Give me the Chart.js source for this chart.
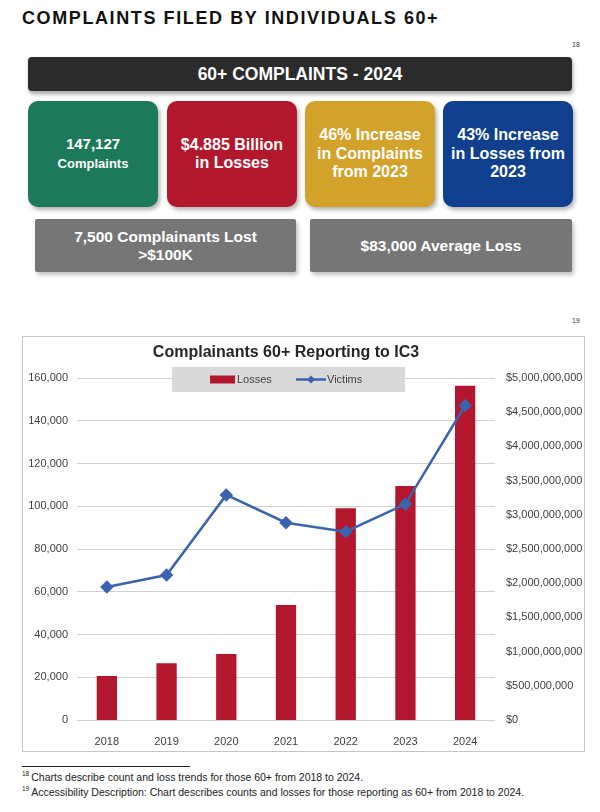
<!DOCTYPE html>
<html>
<head>
<meta charset="utf-8">
<script src="https://cdn.jsdelivr.net/npm/chart.js@4.4.1/dist/chart.umd.min.js"></script>
<style>
    body { margin:0; background:#fff; font-family:"Liberation Sans", Arial, sans-serif; }
    #page { position:relative; width:600px; height:812px; overflow:hidden; }
    .abs { position:absolute; }
    #heading { left:22px; top:8px; font-size:18px; font-weight:bold; letter-spacing:1.6px; color:#111; }
    .fn { font-size:7px; color:#333; }
    #banner { left:28px; top:57px; width:544px; height:34px; background:#2b2b2b; border-radius:4px;
        box-shadow:1px 3px 4px rgba(0,0,0,0.35); color:#fff; font-size:17.5px; font-weight:bold;
        display:flex; align-items:center; justify-content:center; }
    .tile { top:101px; width:130px; height:106px; border-radius:10px; color:#fff; font-weight:bold;
        box-shadow:2px 3px 4px rgba(0,0,0,0.3); display:flex; align-items:center; justify-content:center;
        text-align:center; font-size:16px; line-height:18.5px; }
    .gray { top:219px; height:53px; background:#767676; color:#fff; font-weight:bold; font-size:15.5px;
        line-height:18px; box-shadow:2px 3px 4px rgba(0,0,0,0.25); display:flex; align-items:center;
        justify-content:center; text-align:center; border-radius:2px; }
    #chartbox { left:22px; top:336px; width:561px; height:414px; border:1px solid #c6c6c6; }
    #ic3chart { display:block; }
    #rule { left:22px; top:766px; width:168px; height:0; border-top:1px solid #222; }
    .note { left:22px; font-size:10.5px; color:#222; white-space:nowrap; }
    .note sup { font-size:6.5px; margin-right:2px; }
</style>
</head>
<body>
<div id="page">
    <div id="heading" class="abs">COMPLAINTS FILED BY INDIVIDUALS 60+</div>
    <div class="abs fn" style="left:572px; top:41px;">18</div>
    <div id="banner" class="abs">60+ COMPLAINTS - 2024</div>

    <div class="abs tile" style="left:28px; background:#1c7a5a;"><div><span style="font-size:15px">147,127</span><br><span style="font-size:13px">Complaints</span></div></div>
    <div class="abs tile" style="left:167px; background:#b3172c;"><div>$4.885 Billion<br>in Losses</div></div>
    <div class="abs tile" style="left:305px; background:#d3a22b;"><div>46% Increase<br>in Complaints<br>from 2023</div></div>
    <div class="abs tile" style="left:443px; background:#0f3f8d;"><div>43% Increase<br>in Losses from<br>2023</div></div>

    <div class="abs gray" style="left:35px; width:261px;"><div>7,500 Complainants Lost<br>&gt;$100K</div></div>
    <div class="abs gray" style="left:310px; width:262px;"><div>$83,000 Average Loss</div></div>

    <div class="abs fn" style="left:572px; top:317px;">19</div>
    <div id="chartbox" class="abs"><canvas id="ic3chart" width="561" height="414"></canvas></div>

    <div id="rule" class="abs"></div>
    <div class="abs note" style="top:770px;"><sup>18</sup>Charts describe count and loss trends for those 60+ from 2018 to 2024.</div>
    <div class="abs note" style="top:785px;"><sup>19</sup>Accessibility Description: Chart describes counts and losses for those reporting as 60+ from 2018 to 2024.</div>
</div>

<script>
var years = ['2018', '2019', '2020', '2021', '2022', '2023', '2024'];
var victims = [62200, 67800, 105300, 92300, 88100, 101000, 147127];
var losses = [643000000, 830000000, 965000000, 1680000000, 3095000000, 3420000000, 4885000000];

var barColor = '#b2172d';
var lineColor = '#3b63ae';
var tickFont = { family: 'Liberation Sans', size: 11 };

// gray legend box sitting over the top gridline, like the excel one
var legendBox = {
    id: 'legendBox',
    beforeDatasetsDraw(chart, args, opts) {
        let ctx = chart.ctx;
        ctx.save();
        ctx.fillStyle = '#d9d9d9';
        ctx.fillRect(opts.x, opts.y, opts.w, opts.h);
        let cy = opts.y + opts.h / 2;
        let ds = chart.data.datasets;
        ctx.font = '11px "Liberation Sans"';
        ctx.textBaseline = 'middle';
        ctx.fillStyle = ds[1].backgroundColor;
        ctx.fillRect(opts.x + 38, cy - 4, 25, 8);
        ctx.fillStyle = '#404040';
        ctx.fillText(ds[1].label, opts.x + 65, cy);
        let lx = opts.x + 124;
        ctx.strokeStyle = ds[0].borderColor;
        ctx.lineWidth = 2.5;
        ctx.beginPath();
        ctx.moveTo(lx, cy);
        ctx.lineTo(lx + 30, cy);
        ctx.stroke();
        ctx.fillStyle = ds[0].borderColor;
        ctx.beginPath();
        ctx.moveTo(lx + 15, cy - 4);
        ctx.lineTo(lx + 19, cy);
        ctx.lineTo(lx + 15, cy + 4);
        ctx.lineTo(lx + 11, cy);
        ctx.closePath();
        ctx.fill();
        ctx.fillStyle = '#404040';
        ctx.fillText(ds[0].label, lx + 31, cy);
        ctx.restore();
    }
};

var ctx = document.getElementById('ic3chart').getContext('2d');
var chart = new Chart(ctx, {
    type: 'bar',
    data: {
        labels: years,
        datasets: [
            {
                type: 'line',
                label: 'Victims',
                data: victims,
                yAxisID: 'y',
                borderColor: lineColor,
                backgroundColor: lineColor,
                borderWidth: 2.5,
                pointStyle: 'rectRot',
                pointRadius: 5,
                pointHoverRadius: 5,
                tension: 0,
                order: 0
            },
            {
                type: 'bar',
                label: 'Losses',
                data: losses,
                yAxisID: 'y1',
                backgroundColor: barColor,
                borderWidth: 0,
                categoryPercentage: 1,
                barPercentage: 0.34,
                order: 1
            }
        ]
    },
    options: {
        responsive: false,
        animation: false,
        layout: { padding: 0 },
        plugins: {
            legend: { display: false },
            tooltip: { enabled: false },
            title: {
                display: true,
                fullSize: false,
                text: 'Complainants 60+ Reporting to IC3',
                color: '#262626',
                font: { family: 'Liberation Sans', size: 16, weight: 'bold' },
                padding: { top: 6, bottom: 15.8 }
            },
            legendBox: { x: 149, y: 30, w: 233, h: 25 }
        },
        scales: {
            x: {
                grid: { display: false },
                border: { display: false },
                ticks: { color: '#404040', font: tickFont, padding: 7, maxRotation: 0 },
                afterFit(scale) { scale.height = 31; }
            },
            y: {
                position: 'left',
                min: 0,
                max: 160000,
                ticks: {
                    stepSize: 20000,
                    color: '#404040',
                    font: tickFont,
                    padding: 9,
                    callback: (v) => v.toLocaleString('en-US')
                },
                grid: { color: '#d0d0d0', lineWidth: 1, drawTicks: false },
                border: { display: false },
                afterFit(scale) { scale.width = 54; }
            },
            y1: {
                position: 'right',
                min: 0,
                max: 5000000000,
                ticks: {
                    stepSize: 500000000,
                    color: '#404040',
                    font: tickFont,
                    padding: 11,
                    autoSkip: false,
                    callback: (v) => '$' + v.toLocaleString('en-US')
                },
                grid: { display: false, drawTicks: false },
                border: { display: false },
                afterFit(scale) { scale.width = 89; }
            }
        }
    },
    plugins: [legendBox]
});
</script>
</body>
</html>
